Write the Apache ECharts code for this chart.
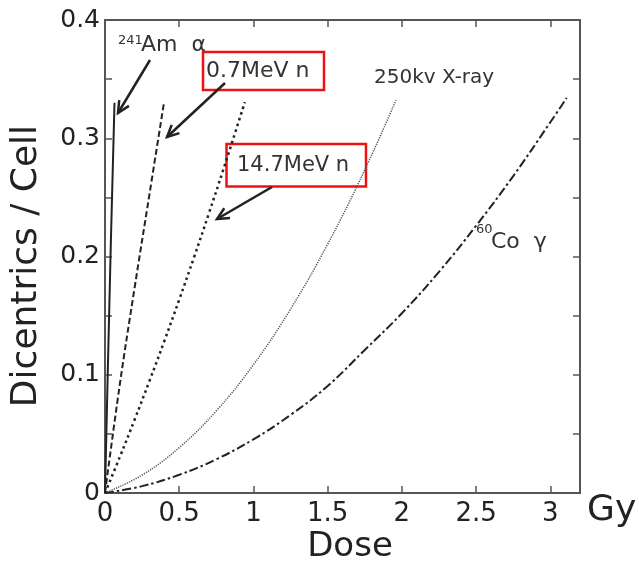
<!DOCTYPE html>
<html>
<head>
<meta charset="utf-8">
<script src="https://cdn.jsdelivr.net/npm/echarts@6/dist/echarts.min.js"></script>
<style>html,body{margin:0;padding:0;background:#fff}#c{width:639px;height:566px}</style>
</head>
<body>
<div id="c"></div>
<script>
// Dose (Gy) / dicentrics-per-cell pairs
const am241Alpha = [[0, 0], [0.02, 0.11], [0.04, 0.215], [0.064, 0.33]];
const neutron07 = [[0, 0], [0.1, 0.092], [0.2, 0.174], [0.3, 0.253], [0.396, 0.329]];
const neutron147 = [[0, 0], [0.1, 0.0305], [0.2, 0.0622], [0.3, 0.0949], [0.4, 0.1286], [0.5, 0.1635], [0.6, 0.1994], [0.7, 0.2365], [0.8, 0.2746], [0.942, 0.3305]];
const xray250 = [[0, 0], [0.25, 0.0152], [0.5, 0.0384], [0.75, 0.0695], [1.0, 0.1085], [1.25, 0.1555], [1.5, 0.2104], [1.75, 0.2732], [1.96, 0.3321]];
const co60Gamma = [[0, 0], [0.25, 0.0058], [0.5, 0.0154], [0.75, 0.0285], [1.0, 0.0454], [1.25, 0.066], [1.5, 0.0905], [1.75, 0.121], [2.0, 0.152], [2.25, 0.187], [2.5, 0.226], [2.75, 0.268], [3.0, 0.3135], [3.11, 0.3341]];

const xTicks = ['0', '0.5', '1', '1.5', '2', '2.5', '3'];
const yTicks = ['0', '0.1', '0.2', '0.3', '0.4'];

const FONT = 'DejaVu Sans';
const AX = '#555';

function arrow(x1, y1, x2, y2) {
  const a = Math.atan2(y2 - y1, x2 - x1), L = 13, w = 0.45;
  const p1 = [x2 - L * Math.cos(a - w), y2 - L * Math.sin(a - w)];
  const p2 = [x2 - L * Math.cos(a + w), y2 - L * Math.sin(a + w)];
  return [
    {type: 'line', shape: {x1, y1, x2, y2}, style: {stroke: '#222', lineWidth: 2.5}},
    {type: 'polyline', shape: {points: [p1, [x2, y2], p2]}, style: {stroke: '#222', lineWidth: 2.5, fill: null}}
  ];
}
function txt(x, y, text, size, extra, rot) {
  const el = {type: 'text', x, y, style: Object.assign({text, fontFamily: FONT, fontSize: size, fill: '#333', align: 'left', verticalAlign: 'middle'}, extra || {})};
  if (rot) el.rotation = rot;
  return el;
}

const chart = echarts.init(document.getElementById('c'), null, {renderer: 'canvas'});

const xLabel = v => { const s = String(+v.toFixed(2)); return xTicks.indexOf(s) >= 0 ? s : ''; };
const yLabel = v => { const s = v === 0 ? '0' : (+v.toFixed(2)).toString(); return yTicks.indexOf(s) >= 0 ? s : ''; };

function axis(extra) {
  return Object.assign({
    type: 'value',
    axisLine: {show: true, onZero: false, lineStyle: {color: AX, width: 2}},
    axisTick: {show: true, inside: true, length: 7, lineStyle: {color: AX, width: 1.5}},
    splitLine: {show: false}
  }, extra);
}

chart.setOption({
  animation: false,
  backgroundColor: '#fff',
  grid: {left: 105, right: 59, top: 20, bottom: 73, containLabel: false},
  xAxis: [
    axis({min: 0, max: 3.2, interval: 0.5, position: 'bottom',
      axisLabel: {show: true, margin: 8, fontFamily: FONT, fontSize: 26, color: '#222', formatter: xLabel, showMaxLabel: false}}),
    axis({min: 0, max: 3.2, interval: 0.5, position: 'top', axisLabel: {show: false}})
  ],
  yAxis: [
    axis({min: 0, max: 0.4, interval: 0.05, position: 'left',
      axisLabel: {show: true, margin: 5, fontFamily: FONT, fontSize: 25, color: '#222', formatter: yLabel}}),
    axis({min: 0, max: 0.4, interval: 0.05, position: 'right', axisLabel: {show: false}})
  ],
  series: [
    {name: '241Am α', type: 'line', data: am241Alpha, showSymbol: false, smooth: false, lineStyle: {color: '#222', width: 2, type: 'solid'}},
    {name: '0.7MeV n', type: 'line', data: neutron07, showSymbol: false, smooth: 0.4, lineStyle: {color: '#222', width: 2, type: [6, 3]}},
    {name: '14.7MeV n', type: 'line', data: neutron147, showSymbol: false, smooth: 0.4, lineStyle: {color: '#222', width: 2.5, type: [2.5, 3.5]}},
    {name: '250kv X-ray', type: 'line', data: xray250, showSymbol: false, smooth: 0.4, lineStyle: {color: '#555', width: 1.5, type: [1.2, 1.2]}},
    {name: '60Co γ', type: 'line', data: co60Gamma, showSymbol: false, smooth: 0.4, lineStyle: {color: '#222', width: 2, type: [9, 3, 2.5, 3]}}
  ],
  graphic: [
    txt(27, 266, 'Dicentrics / Cell', 36, {align: 'center', fill: '#222'}, Math.PI / 2),
    txt(350, 547, 'Dose', 34, {align: 'center', fill: '#222'}),
    txt(587, 511, 'Gy', 36, {fill: '#222'}),
    txt(118, 41, '241', 13),
    txt(141, 45, 'Am  α', 22),
    {type: 'rect', shape: {x: 203, y: 52, width: 121, height: 38}, style: {fill: null, stroke: '#ee1111', lineWidth: 2.5}},
    txt(206, 71.5, '0.7MeV n', 22),
    {type: 'rect', shape: {x: 226.5, y: 144, width: 139.5, height: 42.5}, style: {fill: null, stroke: '#ee1111', lineWidth: 2.5}},
    txt(237, 166, '14.7MeV n', 21),
    txt(374, 77.5, '250kv X-ray', 20),
    txt(476, 230, '60', 13),
    txt(491, 242, 'Co  γ', 22)
  ].concat(arrow(150, 60, 118, 113), arrow(225, 83, 167, 137), arrow(272, 187, 217, 219))
});
</script>
</body>
</html>
